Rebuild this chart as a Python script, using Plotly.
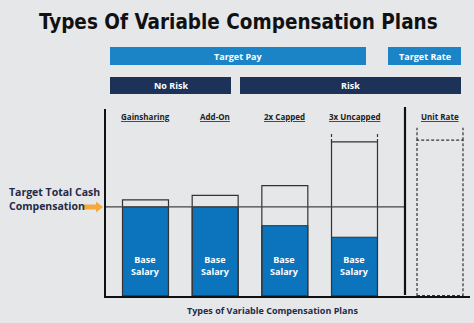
import plotly.graph_objects as go

# Plan categories and pay levels (target total cash compensation = 100)
plans = ["Gainsharing", "Add-On", "2x Capped", "3x Uncapped"]
base_salary = [100, 100, 79, 66]
max_total_pay = [108, 113, 124, 173]
rate_plans = ["Unit Rate"]
rate_total = [175]
target_tcc = 100

W, H = 474, 323
BG = "#e6e7e9"
BLUE = "#0b74bd"
HEAD_BLUE = "#1a84c6"
NAVY = "#1c3259"
TEXT = "#1f2b47"
EDGE = "#333333"

def px(x):
    return x / W

def py(y):
    return 1 - y / H

BAR_W = 0.66
fig = go.Figure()

# base salary bars
fig.add_trace(go.Bar(
    x=plans, y=base_salary, width=BAR_W, marker=dict(color=BLUE, line=dict(color=EDGE, width=1)),
    xaxis="x", yaxis="y", hoverinfo="skip", showlegend=False))
# total pay opportunity outline
fig.add_trace(go.Bar(
    x=plans, y=max_total_pay, width=BAR_W,
    marker=dict(color="rgba(0,0,0,0)", line=dict(color=EDGE, width=1.2)),
    xaxis="x", yaxis="y", hoverinfo="skip", showlegend=False))
# unit rate: dashed open box
fig.add_trace(go.Scatter(
    x=[-BAR_W / 2, -BAR_W / 2, BAR_W / 2, BAR_W / 2],
    y=[0, rate_total[0], rate_total[0], 0],
    mode="lines", line=dict(color=EDGE, width=1.2, dash="3px,2px"),
    xaxis="x2", yaxis="y", hoverinfo="skip", showlegend=False))
fig.add_trace(go.Scatter(
    x=[-BAR_W / 2, BAR_W / 2], y=[0, 0],
    mode="lines", line=dict(color=EDGE, width=2, dash="3px,2px"),
    xaxis="x2", yaxis="y", hoverinfo="skip", showlegend=False))

shapes = []
# uncapped extension ticks above the uncapped box and unit rate box
ext = 11
ui = plans.index("3x Uncapped")
for dx in (-BAR_W / 2, BAR_W / 2):
    shapes.append(dict(type="line", xref="x", yref="y", x0=ui + dx, x1=ui + dx,
                       y0=max_total_pay[ui], y1=max_total_pay[ui] + ext,
                       line=dict(color=EDGE, width=1.2, dash="3px,2px")))
    shapes.append(dict(type="line", xref="x2", yref="y", x0=dx, x1=dx,
                       y0=rate_total[0], y1=rate_total[0] + 14,
                       line=dict(color=EDGE, width=1.2, dash="3px,2px")))

# target total cash compensation line
shapes.append(dict(type="line", xref="paper", yref="y", x0=px(106), x1=px(405),
                   y0=target_tcc, y1=target_tcc, line=dict(color="#444444", width=1.2)))
# divider between target pay and target rate
shapes.append(dict(type="line", xref="paper", yref="paper", x0=px(405), x1=px(405),
                   y0=py(295), y1=py(107), line=dict(color="#111111", width=2.2)))

# header boxes
headers = [
    ("Target Pay", 110, 366, 47, 65, HEAD_BLUE),
    ("Target Rate", 388, 461, 47, 65, HEAD_BLUE),
    ("No Risk", 110, 231, 77, 94, NAVY),
    ("Risk", 240, 461, 77, 94, NAVY),
]
annotations = []
for label, x0, x1, y0, y1, col in headers:
    shapes.append(dict(type="rect", xref="paper", yref="paper", x0=px(x0), x1=px(x1),
                       y0=py(y1), y1=py(y0), fillcolor=col, line=dict(width=0), layer="below"))
    annotations.append(dict(text="<b>" + label + "</b>", xref="paper", yref="paper",
                            x=px((x0 + x1) / 2), y=py((y0 + y1) / 2), showarrow=False,
                            font=dict(family="Open Sans", size=9, color="white"),
                            xanchor="center", yanchor="middle"))

# orange arrow pointing at the target line
shapes.append(dict(type="path", xref="paper", yref="paper",
                   path="M {} {} L {} {} L {} {} L {} {} L {} {} L {} {} L {} {} Z".format(
                       px(84), py(204.5), px(96), py(204.5), px(96), py(201.5), px(103), py(207),
                       px(96), py(212.5), px(96), py(209.5), px(84), py(209.5)),
                   fillcolor="#f4a93c", line=dict(width=0)))

# plan labels
for p in plans:
    annotations.append(dict(text="<b><u>" + p + "</u></b>", xref="x", yref="paper", x=p, y=py(117),
                            showarrow=False, font=dict(family="Open Sans", size=8, color="#222222"),
                            xanchor="center", yanchor="middle"))
    annotations.append(dict(text="<b>Base<br>Salary</b>", xref="x", yref="y", x=p, y=34,
                            showarrow=False, font=dict(family="Open Sans", size=9, color="white"),
                            xanchor="center", yanchor="middle"))
for i, p in enumerate(rate_plans):
    annotations.append(dict(text="<b><u>" + p + "</u></b>", xref="x2", yref="paper", x=i, y=py(117),
                            showarrow=False, font=dict(family="Open Sans", size=8, color="#222222"),
                            xanchor="center", yanchor="middle"))

annotations += [
    dict(text="<b>Types Of Variable Compensation Plans</b>", xref="paper", yref="paper",
         x=px(239), y=py(22), showarrow=False, xanchor="center", yanchor="middle",
         font=dict(family="DejaVu Sans Condensed", size=20.5, color="#111111")),
    dict(text="<b>Target Total Cash<br>Compensation</b>", xref="paper", yref="paper",
         x=px(7), y=py(199), showarrow=False, xanchor="left", yanchor="middle", align="left",
         font=dict(family="Open Sans", size=10.5, color=TEXT)),
    dict(text="<b>Types of Variable Compensation Plans</b>", xref="paper", yref="paper",
         x=px(272), y=py(310), showarrow=False, xanchor="center", yanchor="middle",
         font=dict(family="Open Sans", size=9, color=TEXT)),
]

# axis placement: category index 0 at x=145.5px, 3 at 354.5px
unit = (354.5 - 145.5) / 3
x_left, x_div, x_right = 106, 405, 470
fig.update_layout(
    width=W, height=H, margin=dict(l=0, r=0, t=0, b=0),
    paper_bgcolor=BG, plot_bgcolor=BG, barmode="overlay",
    xaxis=dict(domain=[px(x_left), px(x_div)], type="category",
               range=[(x_left - 145.5) / unit, (x_div - 145.5) / unit],
               showticklabels=False, ticks="", showgrid=False, zeroline=False,
               showline=True, linecolor="#111111", linewidth=2),
    xaxis2=dict(domain=[px(x_div), px(x_right)], type="linear",
                range=[(x_div - 440) / unit, (x_right - 440) / unit],
                showticklabels=False, ticks="", showgrid=False, zeroline=False,
                showline=True, linecolor="#111111", linewidth=2),
    yaxis=dict(domain=[py(296), py(109)], range=[0, 210], showticklabels=False, ticks="",
               showgrid=False, zeroline=False, showline=True, linecolor="#111111", linewidth=2),
    shapes=shapes, annotations=annotations,
)

fig.write_html("out.html")
